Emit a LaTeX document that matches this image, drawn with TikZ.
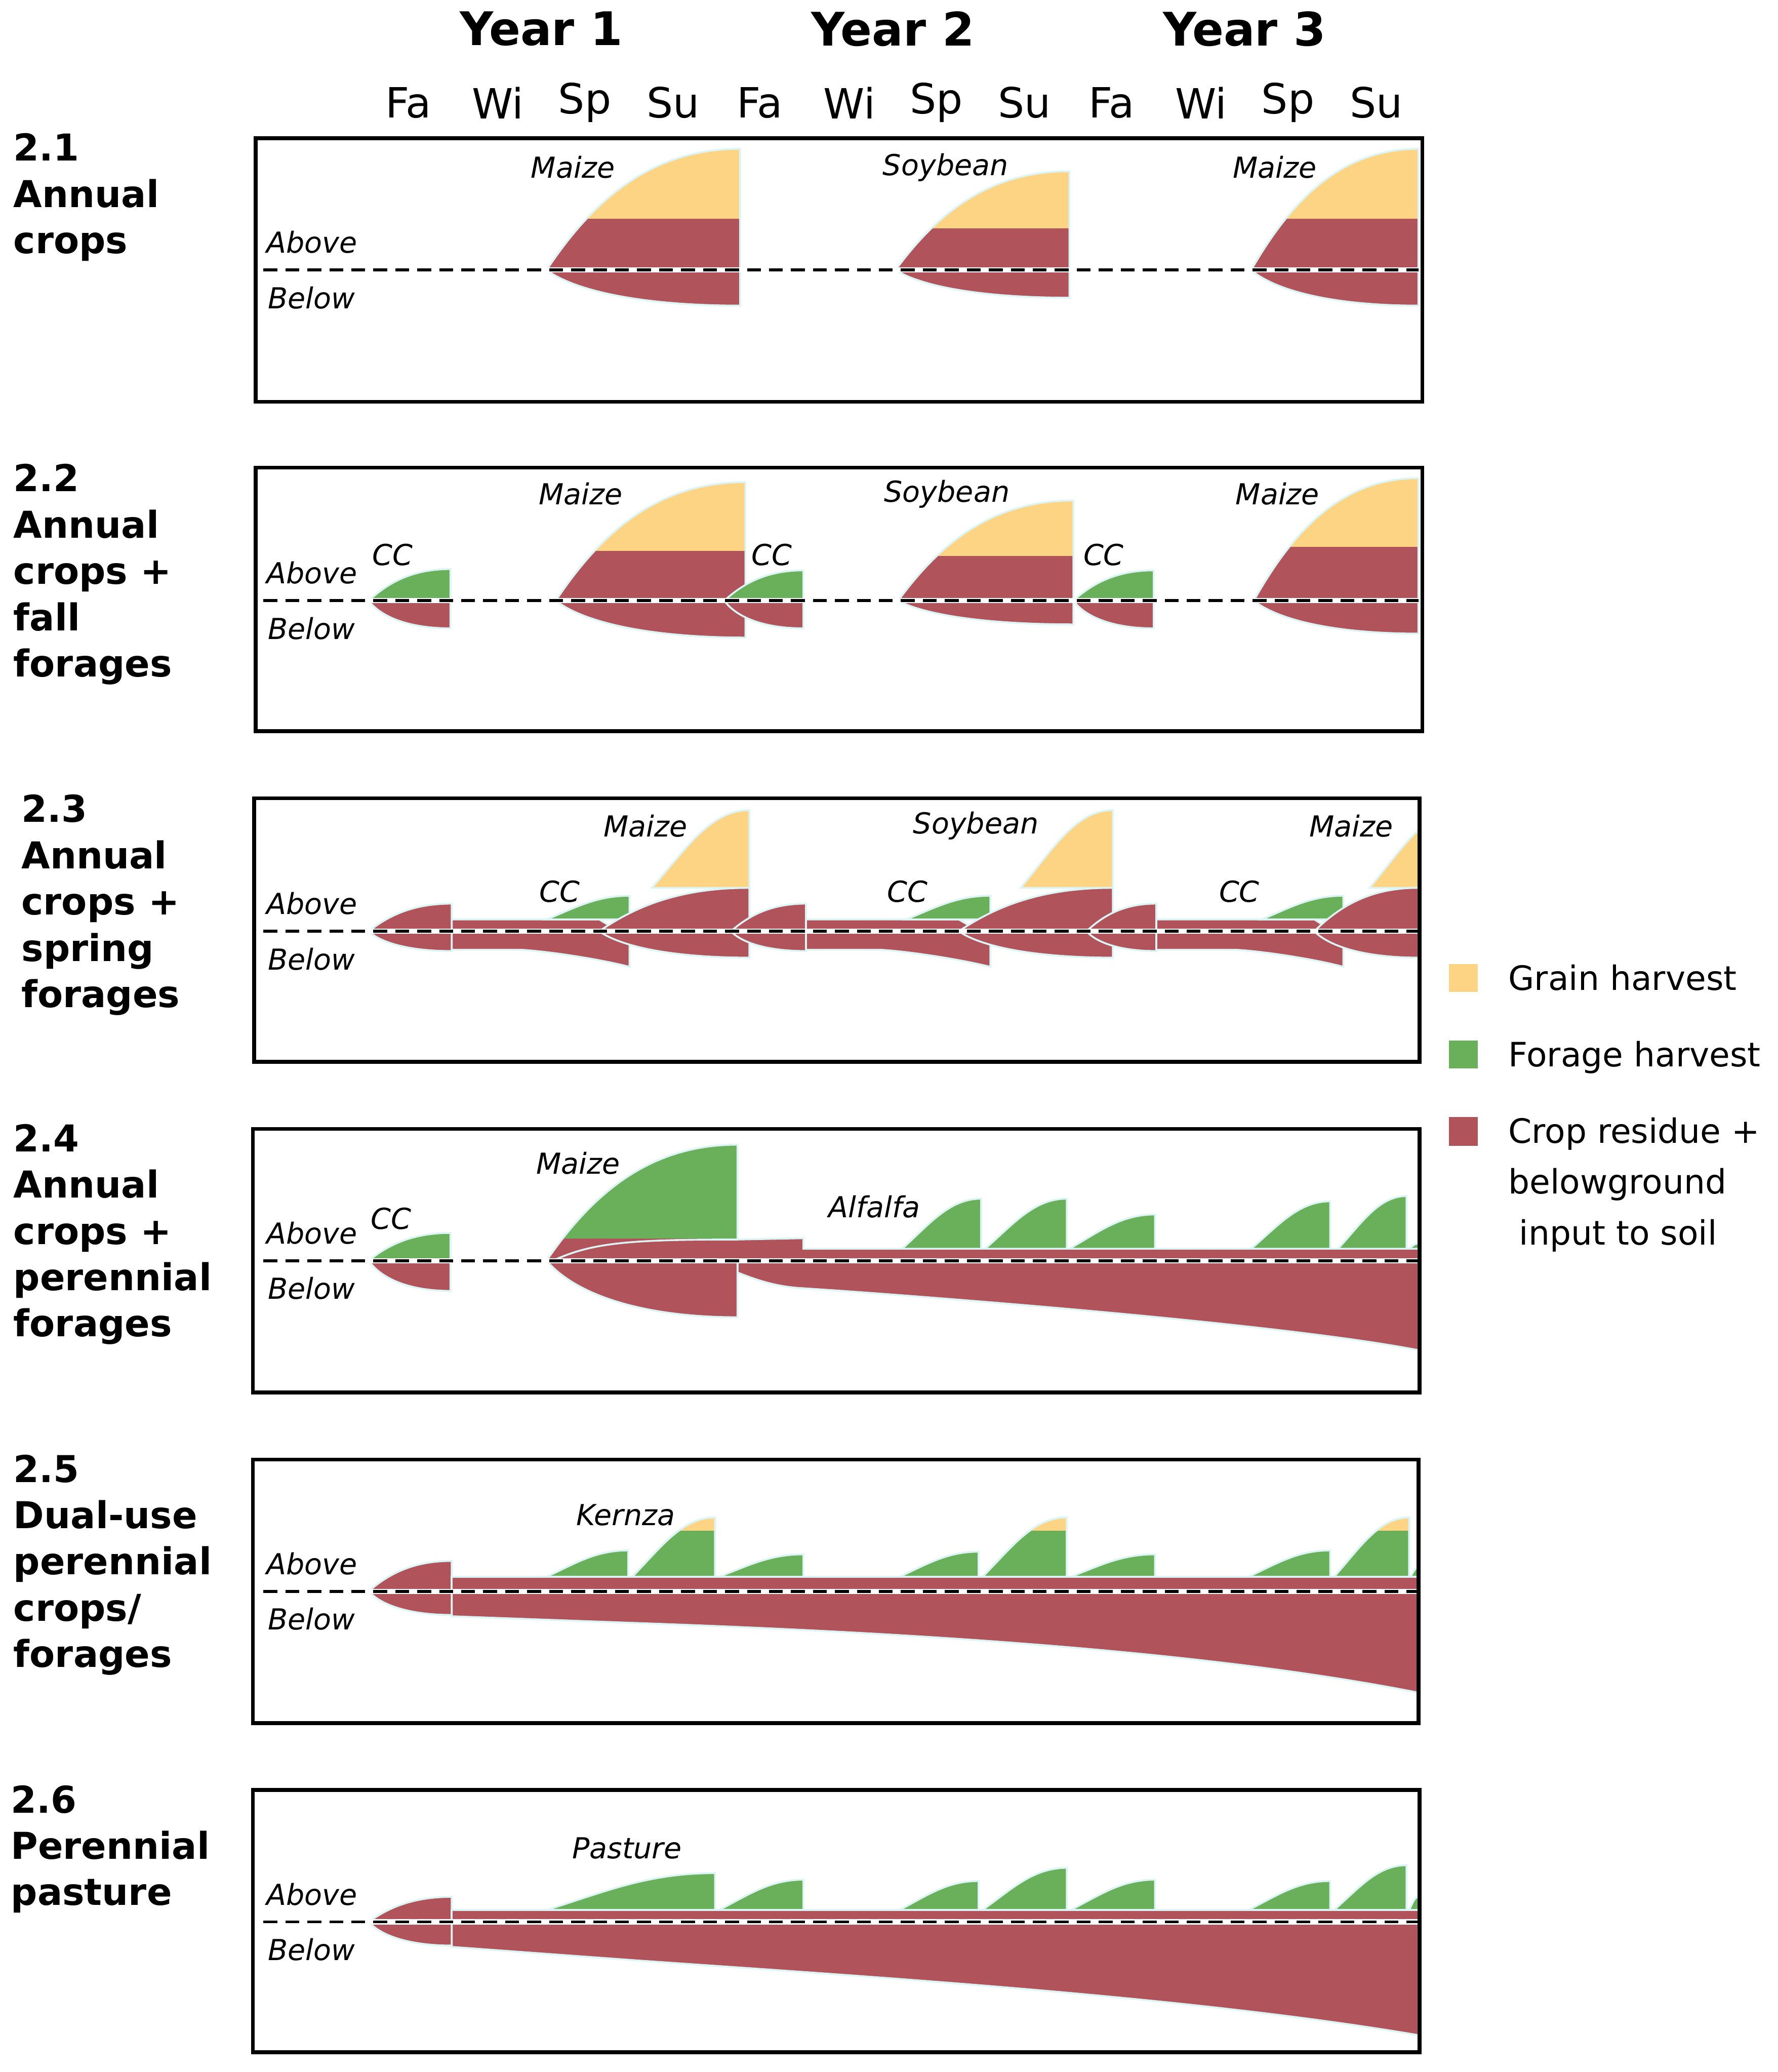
\documentclass[tikz,border=0pt]{standalone}
\usepackage{fontspec}
\setmainfont{DejaVu Sans}
\begin{document}
\begin{tikzpicture}[x=0.02cm,y=-0.02cm]
\definecolor{cropred}{HTML}{B0535A}
\definecolor{grain}{HTML}{FDD484}
\definecolor{forage}{HTML}{6AAF5A}
\definecolor{outl}{HTML}{DDF4F4}
\tikzset{
 box/.style={draw=black,line width=1.7pt},
 yr/.style={font=\fontsize{20}{22}\selectfont\bfseries},
 ssn/.style={font=\fontsize{18}{20}\selectfont},
 lab/.style={font=\fontsize{16}{20}\selectfont\bfseries,anchor=north west,align=left,inner sep=0pt},
 it/.style={font=\fontsize{12.5}{14}\selectfont\itshape},
 ab/.style={font=\fontsize{12.5}{14}\selectfont\itshape,anchor=west,inner sep=0pt},
 leg/.style={font=\fontsize{14.5}{22}\selectfont,anchor=north west,align=left,inner sep=0pt},
 ol/.style={draw=outl,line width=0.8pt}
}
\useasboundingbox (0,0) rectangle (1350,1573);
\fill[white] (0,0) rectangle (1350,1573);
% path helpers
\newcommand\annpath[6]{(#1,#6) .. controls ({#1+0.25*(#2-#1)},{#6-0.6*(#6-#3)}) and ({#1+0.55*(#2-#1)},#3) .. (#2,#3) -- (#2,#5) .. controls ({#1+0.5*(#2-#1)},#5) and ({#1+0.15*(#2-#1)},{#6+0.6*(#5-#6)}) .. (#1,#6) -- cycle}
\newcommand\annual[7]{%
 \fill[cropred] \annpath{#1}{#2}{#3}{#4}{#5}{#6};
 \begin{scope}\clip ({#1-2},{#3-2}) rectangle ({#2+2},#4);
 \fill[#7] \annpath{#1}{#2}{#3}{#4}{#5}{#6};\end{scope}
 \draw[ol] \annpath{#1}{#2}{#3}{#4}{#5}{#6};}
\newcommand\bpath[4]{(#1,#3) .. controls ({#1+0.35*(#2-#1)},{#3-0.5*(#3-#4)}) and ({#1+0.6*(#2-#1)},#4) .. (#2,#4) -- (#2,#3) -- cycle}
\newcommand\bump[5]{\filldraw[fill=#1,ol] \bpath{#2}{#3}{#4}{#5};}
\newcommand\bumpcap[4]{\bump{forage}{#1}{#2}{#3}{#4}
 \begin{scope}\clip \bpath{#1}{#2}{#3}{#4}; \fill[grain] (#1,{#4-2}) rectangle (#2,{#4+10});\end{scope}
 \draw[ol] \bpath{#1}{#2}{#3}{#4};}
\newcommand\dline[2]{\draw[white,line width=2.2pt] (197,#1) -- (#2,#1); \draw[black,line width=1.3pt,dash pattern=on 6pt off 3.5pt] (200,#1) -- (#2,#1);}
\newcommand\ablab[1]{\node[ab] at (202,{#1-21}) {Above}; \node[ab] at (203,{#1+21}) {Below};}

% header
\node[yr] at (411,22) {Year 1};
\node[yr] at (678,22) {Year 2};
\node[yr] at (945,22) {Year 3};
\foreach \s/\x in {Fa/310,Wi/378,Sp/444,Su/511,Fa/577,Wi/645,Sp/711,Su/778,Fa/844,Wi/912,Sp/978,Su/1045}
 \node[ssn] at (\x,78) {\s};

% left labels
\node[lab] at (10,101) {2.1\\Annual\\crops};
\node[lab] at (10,352) {2.2\\Annual\\crops +\\fall\\forages};
\node[lab] at (16,603) {2.3\\Annual\\crops +\\spring\\forages};
\node[lab] at (10,853) {2.4\\Annual\\crops +\\perennial\\forages};
\node[lab] at (10,1104) {2.5\\Dual-use\\perennial\\crops/\\forages};
\node[lab] at (8,1355) {2.6\\Perennial\\pasture};

% legend
\fill[grain] (1100,732) rectangle (1122,753);
\fill[forage] (1100,790) rectangle (1122,811);
\fill[cropred] (1100,848) rectangle (1122,870);
\node[leg] at (1145,732) {Grain harvest};
\node[leg] at (1145,790) {Forage harvest};
\node[leg] at (1145,848) {Crop residue +\\belowground\\\ input to soil};

% ---- 2.1
\annual{415}{562}{113}{166}{232}{205}{grain}
\annual{680}{812}{130}{173}{226}{205}{grain}
\annual{950}{1077}{113}{166}{232}{205}{grain}
\dline{205}{1077}
\ablab{205}
\node[it] at (435,127) {Maize};
\node[it] at (718,127) {Soybean};
\node[it] at (968,127) {Maize};
\draw[box] (194,105) rectangle (1080,305);

% ---- 2.2
\annual{280}{342}{432}{456}{477}{456}{forage}
\annual{422}{566}{366}{418}{484}{456}{grain}
\annual{550}{610}{433}{456}{477}{456}{forage}
\annual{682}{815}{380}{422}{474}{456}{grain}
\annual{815}{876}{433}{456}{477}{456}{forage}
\annual{952}{1077}{363}{415}{481}{456}{grain}
\dline{456}{1077}
\ablab{456}
\node[it] at (298,421) {CC};
\node[it] at (441,375) {Maize};
\node[it] at (586,421) {CC};
\node[it] at (719,375) {Soybean};
\node[it] at (838,421) {CC};
\node[it] at (970,375) {Maize};
\draw[box] (194,355) rectangle (1080,555);

% ---- 2.3
\foreach \a/\b/\c/\d/\e in {280/343/455/478/569, 555/612/728/752/845, 825/878/998/1020/1077}{
 \pgfmathtruncatemacro\h{\c-40}
 \pgfmathtruncatemacro\k{\c-60}
 \filldraw[fill=cropred,ol] (\b,698) -- (\c,698) -- (\d,712) -- (\d,734) .. controls (\c,728) and (\h,722) .. (\k,721) -- (\b,721) -- cycle;
 \annual{\a}{\b}{686}{686}{722}{707}{cropred}
 \bump{forage}{\h}{\d}{698}{680}
 \annual{\c}{\e}{674}{674}{727}{707}{cropred}
}
\begin{scope}\clip (193,606) rectangle (1078,806);
\bump{grain}{495}{569}{674}{615}
\bump{grain}{775}{845}{674}{615}
\bump{grain}{1040}{1110}{674}{615}
\end{scope}
\dline{707}{1077}
\ablab{707}
\node[it] at (490,627) {Maize};
\node[it] at (425,677) {CC};
\node[it] at (741,627) {Soybean};
\node[it] at (689,677) {CC};
\node[it] at (1026,627) {Maize};
\node[it] at (941,677) {CC};
\draw[box] (193,606) rectangle (1078,806);

% ---- 2.4
\annual{280}{342}{936}{957}{980}{957}{forage}
\filldraw[fill=cropred,ol] (560,957) -- (1077,957) -- (1077,1025) .. controls (1000,1010) and (820,993) .. (640,980) -- (610,978) .. controls (590,977) and (575,972) .. (560,966) -- cycle;
\annual{415}{560}{869}{940}{1000}{957}{forage}
\filldraw[fill=cropred,ol] (420,957) .. controls (450,943) and (480,941) .. (560,941) -- (610,940) -- (610,948) -- (1077,948) -- (1077,957) -- cycle;
\bump{forage}{685}{745}{948}{910}
\bump{forage}{748}{810}{948}{910}
\bump{forage}{812}{877}{948}{922}
\bump{forage}{950}{1010}{948}{912}
\bump{forage}{1016}{1068}{948}{908}
\bump{forage}{1070}{1077}{948}{944}
\dline{957}{1077}
\ablab{957}
\node[it] at (297,925) {CC};
\node[it] at (439,883) {Maize};
\node[it] at (664,916) {Alfalfa};
\draw[box] (192,857) rectangle (1078,1057);

% ---- 2.5
\filldraw[fill=cropred,ol] (343,1208) -- (1077,1208) -- (1077,1285) .. controls (900,1250) and (650,1238) .. (480,1232) -- (343,1227) -- cycle;
\annual{280}{343}{1185}{1185}{1226}{1208}{cropred}
\filldraw[fill=cropred,ol] (343,1197) rectangle (1077,1208);
\bump{forage}{415}{477}{1197}{1177}
\bumpcap{480}{543}{1197}{1152}
\bump{forage}{546}{610}{1197}{1180}
\bump{forage}{683}{743}{1197}{1178}
\bumpcap{746}{810}{1197}{1152}
\bump{forage}{813}{877}{1197}{1180}
\bump{forage}{948}{1010}{1197}{1177}
\bumpcap{1013}{1070}{1197}{1152}
\bump{forage}{1071}{1077}{1197}{1190}
\dline{1208}{1077}
\ablab{1208}
\node[it] at (475,1150) {Kernza};
\draw[box] (192,1108) rectangle (1077,1308);

% ---- 2.6
\filldraw[fill=cropred,ol] (343,1459) -- (1077,1459) -- (1077,1545) .. controls (900,1515) and (650,1500) .. (480,1488) -- (343,1478) -- cycle;
\annual{280}{343}{1440}{1440}{1477}{1459}{cropred}
\filldraw[fill=cropred,ol] (343,1450) rectangle (1077,1459);
\bump{forage}{415}{543}{1450}{1422}
\bump{forage}{546}{610}{1450}{1427}
\bump{forage}{683}{743}{1450}{1428}
\bump{forage}{746}{810}{1450}{1418}
\bump{forage}{813}{877}{1450}{1427}
\bump{forage}{948}{1010}{1450}{1428}
\bump{forage}{1013}{1068}{1450}{1416}
\bump{forage}{1070}{1077}{1450}{1440}
\dline{1459}{1077}
\ablab{1459}
\node[it] at (476,1403) {Pasture};
\draw[box] (192,1359) rectangle (1078,1558);
\end{tikzpicture}
\end{document}
